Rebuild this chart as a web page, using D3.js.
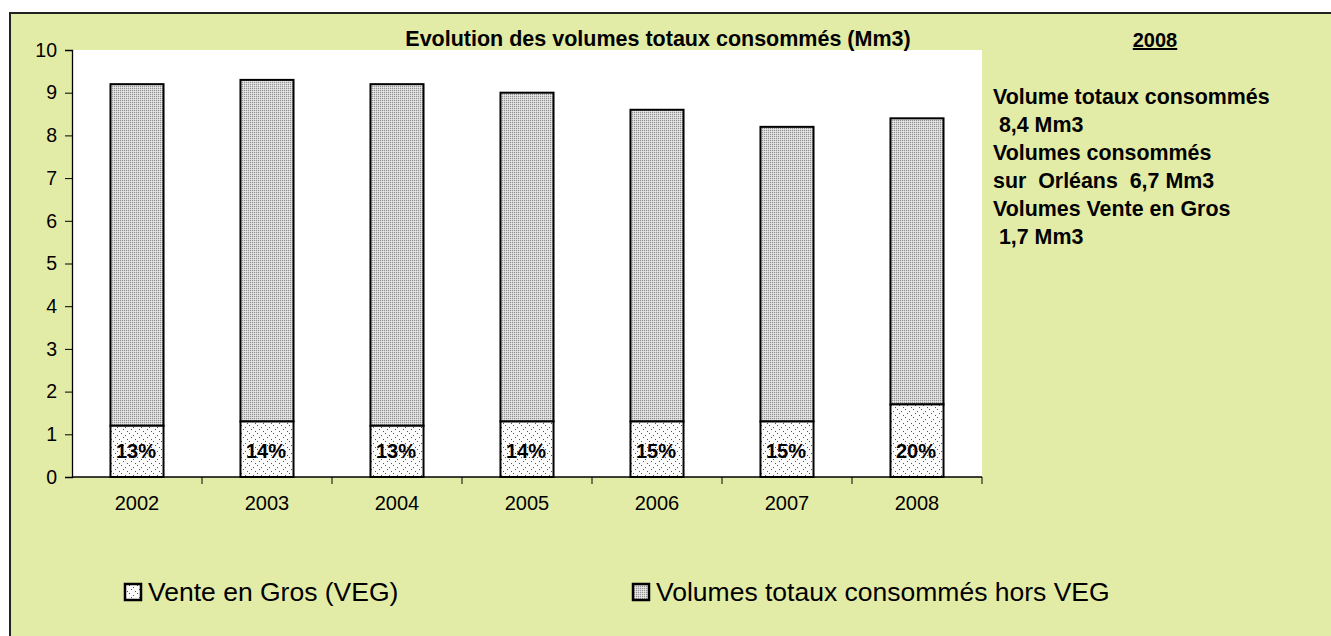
<!DOCTYPE html>
<html>
<head>
<meta charset="utf-8">
<script src="https://cdn.jsdelivr.net/npm/d3@7"></script>
<style>
  body { margin: 0; background: #fff; overflow: hidden; }
  svg { display: block; font-family: "Liberation Sans", Arial, sans-serif; }
</style>
</head>
<body>
<svg id="chart" width="1331" height="636"></svg>
<script>
const years = ['2002', '2003', '2004', '2005', '2006', '2007', '2008'];
const totals = [9.2, 9.3, 9.2, 9.0, 8.6, 8.2, 8.4];
const veg = [1.2, 1.3, 1.2, 1.3, 1.3, 1.3, 1.7];
const vegShare = ['13%', '14%', '13%', '14%', '15%', '15%', '20%'];
const yTicks = [0, 1, 2, 3, 4, 5, 6, 7, 8, 9, 10];
const legendLabels = ['Vente en Gros (VEG)', 'Volumes totaux consommés hors VEG'];
const noteLines = ['Volume totaux consommés', ' 8,4 Mm3', 'Volumes consommés',
                   'sur  Orléans  6,7 Mm3', 'Volumes Vente en Gros', ' 1,7 Mm3'];

const svg = d3.select('#chart');
const plot = { left: 72, right: 982, top: 50, bottom: 477 };

// patterns used by Excel style fills
const defs = svg.append('defs');
const dense = defs.append('pattern').attr('id', 'dense')
    .attr('width', 2).attr('height', 2).attr('patternUnits', 'userSpaceOnUse');
dense.append('rect').attr('width', 2).attr('height', 2).attr('fill', '#d4d4d4');
dense.append('rect').attr('width', 1).attr('height', 1).attr('fill', '#949494');
dense.append('rect').attr('x', 1).attr('y', 1).attr('width', 1).attr('height', 1).attr('fill', '#e8e8e8');

const sparse = defs.append('pattern').attr('id', 'sparse')
    .attr('width', 8).attr('height', 8).attr('patternUnits', 'userSpaceOnUse');
sparse.append('rect').attr('width', 8).attr('height', 8).attr('fill', '#fbfbfb');
[[1, 1], [5, 3], [3, 5], [7, 7]].forEach(([x, y]) => {
    sparse.append('rect').attr('x', x).attr('y', y).attr('width', 1).attr('height', 1).attr('fill', '#555');
});

// background panel (right and bottom edges fall outside the picture)
svg.append('rect').attr('x', 10).attr('y', 13).attr('width', 2000).attr('height', 1000)
    .attr('fill', '#e3eca6').attr('stroke', '#222').attr('stroke-width', 2);
svg.append('rect').attr('x', plot.left).attr('y', plot.top)
    .attr('width', plot.right - plot.left).attr('height', plot.bottom - plot.top)
    .attr('fill', '#fff');

const x = d3.scaleBand().domain(years).range([plot.left, plot.right]).paddingInner(0.592).paddingOuter(0.296);
const xOuter = d3.scaleBand().domain(years).range([plot.left, plot.right]);
const y = d3.scaleLinear().domain([0, 10]).range([plot.bottom, plot.top]);

// bars: upper part (hors VEG) then lower part (VEG)
svg.append('g').selectAll('rect').data(years).join('rect')
    .attr('x', d => x(d)).attr('width', x.bandwidth())
    .attr('y', (d, i) => y(totals[i]))
    .attr('height', (d, i) => y(veg[i]) - y(totals[i]))
    .attr('fill', 'url(#dense)').attr('stroke', '#000').attr('stroke-width', 2);

svg.append('g').selectAll('rect').data(years).join('rect')
    .attr('x', d => x(d)).attr('width', x.bandwidth())
    .attr('y', (d, i) => y(veg[i]))
    .attr('height', (d, i) => y(0) - y(veg[i]))
    .attr('fill', 'url(#sparse)').attr('stroke', '#000').attr('stroke-width', 2);

svg.append('g').selectAll('text').data(years).join('text')
    .attr('x', d => x(d) + x.bandwidth() / 2 - 1)
    .attr('y', y(0.6))
    .attr('dy', '0.35em')
    .attr('text-anchor', 'middle')
    .attr('font-size', 20).attr('font-weight', 'bold')
    .text((d, i) => vegShare[i]);

// axes
const yAxis = svg.append('g').attr('transform', `translate(${plot.left},0)`)
    .call(d3.axisLeft(y).tickValues(yTicks).tickSize(7).tickPadding(8).tickFormat(d3.format('d')));
const xAxis = svg.append('g').attr('transform', `translate(0,${plot.bottom})`)
    .call(d3.axisBottom(xOuter).tickSize(0).tickPadding(19));
[yAxis, xAxis].forEach(g => {
    g.select('.domain').attr('stroke', '#000').attr('stroke-width', 1.3);
    g.selectAll('.tick line').attr('stroke', '#000');
    g.selectAll('text').attr('font-size', 19.5).attr('fill', '#000')
        .attr('font-family', '"Liberation Sans", Arial, sans-serif');
});
xAxis.selectAll('text').attr('font-size', 20);
xAxis.select('.domain').attr('d', `M${plot.left},0H${plot.right}`);
// category boundary ticks
xAxis.append('g').selectAll('line').data(years.slice(1).concat(['end'])).join('line')
    .attr('x1', d => d === 'end' ? plot.right : xOuter(d))
    .attr('x2', d => d === 'end' ? plot.right : xOuter(d))
    .attr('y1', 0).attr('y2', 7).attr('stroke', '#000');

// title
svg.append('text').attr('x', 658).attr('y', 46).attr('text-anchor', 'middle')
    .attr('font-size', 21.5).attr('font-weight', 'bold').text('Evolution des volumes totaux consommés (Mm3)');
svg.append('text').attr('x', 1155).attr('y', 47).attr('text-anchor', 'middle')
    .attr('font-size', 20).attr('font-weight', 'bold').attr('text-decoration', 'underline').text('2008');

// note block
svg.append('g').selectAll('text').data(noteLines).join('text')
    .attr('x', 993).attr('y', (d, i) => 97 + i * 28)
    .attr('dy', '0.35em')
    .attr('font-size', 21.4).attr('font-weight', 'bold')
    .style('white-space', 'pre')
    .text(d => d);

// legend
const legend = svg.append('g');
const legendX = [124, 632];
const legendFill = ['url(#sparse)', 'url(#dense)'];
legendLabels.forEach((label, i) => {
    legend.append('rect').attr('x', legendX[i] + 1).attr('y', 584).attr('width', 16).attr('height', 16)
        .attr('fill', legendFill[i]).attr('stroke', '#000').attr('stroke-width', 2.5);
    legend.append('text').attr('x', legendX[i] + 24).attr('y', 592).attr('dy', '0.35em')
        .attr('font-size', 26.5).text(label);
});
</script>
</body>
</html>
